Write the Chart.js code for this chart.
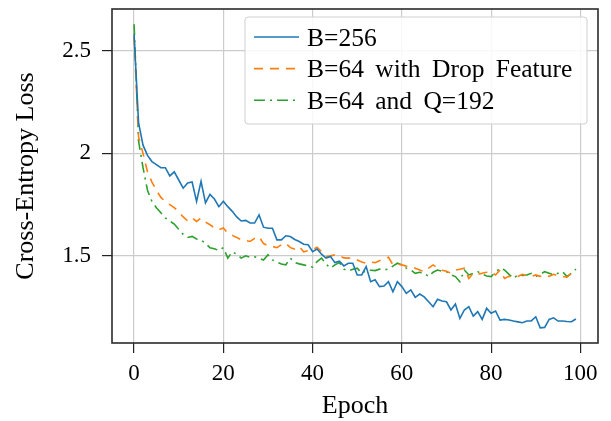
<!DOCTYPE html>
<html><head><meta charset="utf-8">
<script src="https://cdn.jsdelivr.net/npm/chart.js@4.4.0/dist/chart.umd.min.js"></script>
<style>html,body{margin:0;padding:0;background:#fff;}canvas{display:block;}</style>
</head><body>
<canvas id="c" width="611" height="421"></canvas>
<script>
const epochs = [0,1,2,3,4,5,6,7,8,9,10,11,12,13,14,15,16,17,18,19,20,21,22,23,24,25,26,27,28,29,30,31,32,33,34,35,36,37,38,39,40,41,42,43,44,45,46,47,48,49,50,51,52,53,54,55,56,57,58,59,60,61,62,63,64,65,66,67,68,69,70,71,72,73,74,75,76,77,78,79,80,81,82,83,84,85,86,87,88,89,90,91,92,93,94,95,96,97,98,99];
const lossB256 = [2.58,2.15,2.04,1.99,1.96,1.945,1.93,1.93,1.89,1.91,
 1.87,1.83,1.856,1.86,1.766,1.864,1.758,1.80,1.777,1.74,
 1.766,1.74,1.717,1.69,1.67,1.673,1.66,1.66,1.70,1.64,
 1.635,1.635,1.578,1.578,1.598,1.594,1.58,1.57,1.557,1.554,
 1.52,1.533,1.508,1.489,1.497,1.467,1.474,1.451,1.464,1.464,
 1.407,1.407,1.448,1.374,1.383,1.35,1.353,1.374,1.325,1.374,
 1.35,1.317,1.334,1.298,1.314,1.30,1.276,1.252,1.288,1.28,
 1.276,1.236,1.265,1.195,1.236,1.252,1.206,1.228,1.19,1.244,
 1.22,1.231,1.187,1.19,1.187,1.182,1.178,1.174,1.182,1.183,
 1.203,1.149,1.151,1.19,1.198,1.182,1.182,1.18,1.179,1.192];
const lossB64Drop = [2.57,2.08,2.0,1.91,1.86,1.82,1.785,1.765,1.75,1.735,
 1.715,1.69,1.67,1.685,1.668,1.684,1.665,1.652,1.636,1.627,
 1.636,1.61,1.60,1.59,1.578,1.575,1.57,1.585,1.594,1.56,
 1.549,1.546,1.54,1.554,1.562,1.54,1.533,1.545,1.52,1.525,
 1.53,1.542,1.52,1.497,1.50,1.505,1.50,1.49,1.489,1.49,
 1.48,1.47,1.464,1.47,1.467,1.476,1.485,1.493,1.456,1.46,
 1.456,1.45,1.448,1.44,1.431,1.423,1.44,1.456,1.44,1.43,
 1.425,1.415,1.431,1.435,1.44,1.39,1.415,1.41,1.415,1.42,
 1.423,1.407,1.431,1.39,1.40,1.40,1.40,1.41,1.402,1.40,
 1.407,1.40,1.407,1.40,1.41,1.402,1.40,1.396,1.415,1.40];
const lossB64Q192 = [2.63,2.06,1.93,1.82,1.765,1.735,1.71,1.685,1.67,1.655,
 1.63,1.605,1.59,1.595,1.582,1.578,1.56,1.54,1.535,1.526,
 1.54,1.489,1.52,1.508,1.489,1.50,1.493,1.495,1.489,1.48,
 1.505,1.48,1.47,1.46,1.456,1.489,1.468,1.461,1.456,1.45,
 1.445,1.472,1.489,1.46,1.44,1.456,1.467,1.435,1.427,1.435,
 1.44,1.415,1.428,1.43,1.428,1.435,1.432,1.435,1.45,1.464,
 1.456,1.44,1.431,1.415,1.42,1.415,1.399,1.42,1.431,1.425,
 1.423,1.407,1.399,1.374,1.431,1.407,1.415,1.423,1.41,1.402,
 1.399,1.42,1.44,1.431,1.41,1.39,1.407,1.405,1.407,1.415,
 1.399,1.41,1.423,1.415,1.407,1.415,1.423,1.399,1.415,1.435];
const seriesNames = ['B=256','B=64 with Drop Feature','B=64 and Q=192'];
const seriesColors = ['#1f77b4','#ff7f0e','#2ca02c'];
const xTicks = [0,20,40,60,80,100];
const yTicks = [1.5,2,2.5];
const xTitle = 'Epoch';
const yTitle = 'Cross-Entropy Loss';

const SERIF = '"Liberation Serif","Times New Roman",serif';

const framePlugin = {
  id: 'frame',
  afterDatasetsDraw(chart) {
    const ctx = chart.ctx, a = chart.chartArea;
    ctx.save();
    ctx.strokeStyle = '#2b2b2b';
    ctx.lineWidth = 1.6;
    ctx.strokeRect(a.left, a.top, a.right - a.left, a.bottom - a.top);
    ctx.restore();
  }
};

const legendPlugin = {
  id: 'insideLegend',
  afterDatasetsDraw(chart) {
    const ctx = chart.ctx, a = chart.chartArea;
    const w = 342, h = 107;
    const x0 = a.right - 11 - w, y0 = a.top + 8;
    ctx.save();
    ctx.beginPath();
    const r = 3;
    ctx.moveTo(x0 + r, y0);
    ctx.lineTo(x0 + w - r, y0); ctx.quadraticCurveTo(x0 + w, y0, x0 + w, y0 + r);
    ctx.lineTo(x0 + w, y0 + h - r); ctx.quadraticCurveTo(x0 + w, y0 + h, x0 + w - r, y0 + h);
    ctx.lineTo(x0 + r, y0 + h); ctx.quadraticCurveTo(x0, y0 + h, x0, y0 + h - r);
    ctx.lineTo(x0, y0 + r); ctx.quadraticCurveTo(x0, y0, x0 + r, y0);
    ctx.closePath();
    ctx.fillStyle = 'rgba(255,255,255,0.85)';
    ctx.fill();
    ctx.strokeStyle = '#cfcfcf';
    ctx.lineWidth = 1;
    ctx.stroke();
    chart.data.datasets.forEach((ds, i) => {
      const cy = y0 + 20 + i * 31.6;
      ctx.beginPath();
      ctx.strokeStyle = ds.borderColor;
      ctx.lineWidth = ds.borderWidth;
      ctx.setLineDash(ds.borderDash || []);
      ctx.moveTo(x0 + 9, cy);
      ctx.lineTo(x0 + 54, cy);
      ctx.stroke();
      ctx.setLineDash([]);
      ctx.fillStyle = '#000';
      ctx.font = '25.5px ' + SERIF;
      ctx.textBaseline = 'alphabetic';
      ctx.textAlign = 'left';
      try { ctx.wordSpacing = '5px'; } catch (e) {}
      ctx.fillText(ds.label, x0 + 62, cy + 8.5);
    });
    ctx.restore();
  }
};

new Chart(document.getElementById('c'), {
  type: 'line',
  data: {
    labels: epochs,
    datasets: [
      { label: seriesNames[0], data: lossB256, borderColor: seriesColors[0], borderWidth: 1.6, borderDash: [], pointRadius: 0, fill: false, tension: 0 },
      { label: seriesNames[1], data: lossB64Drop, borderColor: seriesColors[1], borderWidth: 1.6, borderDash: [9, 7], pointRadius: 0, fill: false, tension: 0 },
      { label: seriesNames[2], data: lossB64Q192, borderColor: seriesColors[2], borderWidth: 1.6, borderDash: [11, 5, 2, 5], pointRadius: 0, fill: false, tension: 0 }
    ]
  },
  options: {
    responsive: false,
    animation: false,
    devicePixelRatio: 1,
    layout: { padding: { left: 0, right: 13, top: 9, bottom: 0 } },
    plugins: { legend: { display: false }, tooltip: { enabled: false } },
    scales: {
      x: {
        type: 'linear',
        min: -4.95, max: 103.95,
        afterBuildTicks: s => { s.ticks = xTicks.map(v => ({ value: v })); },
        afterFit: s => { s.height = 78; s.paddingLeft = 0; s.paddingRight = 0; },
        ticks: { color: '#000', font: { family: SERIF, size: 23 }, padding: 7, maxRotation: 0, autoSkip: false,
                 callback: v => String(v) },
        grid: { color: '#cccccc', lineWidth: 1.2, tickColor: '#222', tickLength: 10, drawTicks: true },
        border: { display: false },
        title: { display: true, text: xTitle, color: '#000', font: { family: SERIF, size: 26, lineHeight: 1.15 }, padding: { top: 0, bottom: 0 } }
      },
      y: {
        type: 'linear',
        min: 1.075, max: 2.704,
        afterBuildTicks: s => { s.ticks = yTicks.map(v => ({ value: v })); },
        afterFit: s => { s.width = 112; s.paddingTop = 0; s.paddingBottom = 0; },
        ticks: { color: '#000', font: { family: SERIF, size: 23 }, padding: 11, autoSkip: false,
                 callback: v => String(v) },
        grid: { color: '#cccccc', lineWidth: 1.2, tickColor: '#222', tickLength: 10, drawTicks: true },
        border: { display: false },
        title: { display: true, text: yTitle, color: '#000', font: { family: SERIF, size: 26, lineHeight: 1.15 }, padding: { top: 11, bottom: 0 } }
      }
    }
  },
  plugins: [framePlugin, legendPlugin]
});
</script>
</body></html>
